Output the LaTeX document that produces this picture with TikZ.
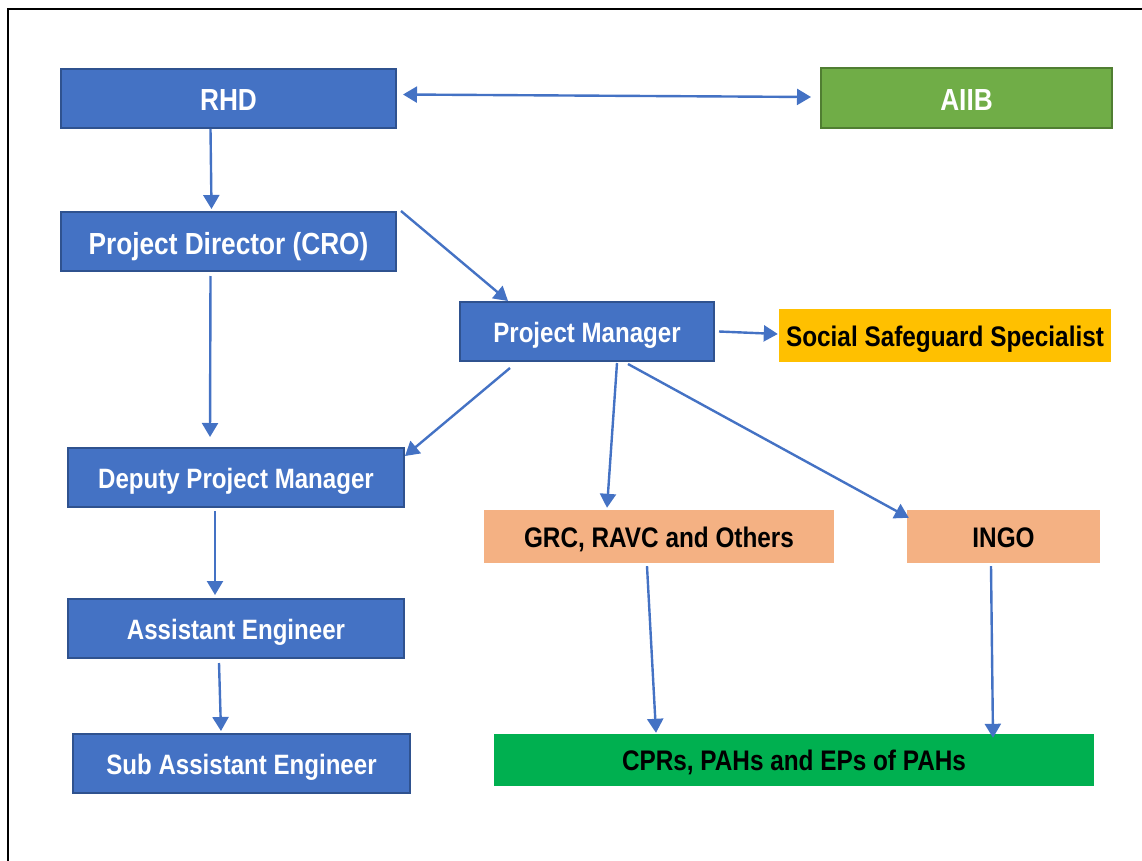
\documentclass[tikz,border=0pt]{standalone}
\usepackage{fontspec}
\setmainfont{Liberation Sans}[FakeStretch=0.86]
\usetikzlibrary{arrows.meta}

\definecolor{boxblue}{HTML}{4472C4}
\definecolor{edgeblue}{HTML}{2F528F}
\definecolor{boxgreen}{HTML}{70AD47}
\definecolor{edgegreen}{HTML}{507E32}
\definecolor{boxgold}{HTML}{FFC000}
\definecolor{boxpeach}{HTML}{F4B183}
\definecolor{boxlime}{HTML}{00B050}

\begin{document}
\begin{tikzpicture}[x=1pt, y=-1pt,
  office/.style={draw=edgeblue, line width=2pt, fill=boxblue, text=white,
    font=\bfseries\fontsize{28}{30}\selectfont, inner sep=0pt, text height=21pt, text depth=0pt},
  bigoffice/.style={office, font=\bfseries\fontsize{30.5}{32}\selectfont, text height=25pt},
  partner/.style={fill=#1, text=black, font=\bfseries\fontsize{28.3}{30}\selectfont,
    inner sep=0pt, text height=21pt, text depth=0pt},
  link/.style={boxblue, line width=2.4pt, -{Triangle[length=14pt, width=16pt]}}]
  \useasboundingbox (0,0) rectangle (1142,861);
  \draw[line width=2pt] (1142,9) -- (8,9) -- (8,861); % Frame round the chart

  % Offices of the project
  \node[bigoffice, minimum width=335pt, minimum height=59pt] (rhd) at (228.5,98.5) {RHD};
  \node[bigoffice, draw=edgegreen, fill=boxgreen, minimum width=291pt, minimum height=60pt] (aiib) at (966.5,98) {AIIB};
  \node[bigoffice, minimum width=335pt, minimum height=59pt] (pd) at (228.5,241.5) {Project Director (CRO)};
  \node[office, minimum width=254pt, minimum height=59pt] (pm) at (587,331.5) {Project Manager};
  \node[office, minimum width=336pt, minimum height=59pt] (dpm) at (236,477.5) {Deputy Project Manager};
  \node[office, minimum width=336pt, minimum height=59pt] (ae) at (236,628.5) {Assistant Engineer};
  \node[office, minimum width=337pt, minimum height=59pt] (sae) at (241.5,763.5) {Sub Assistant Engineer};

  % Other parties
  \node[partner=boxgold, minimum width=332pt, minimum height=53pt] (sss) at (945,335.5) {Social Safeguard Specialist};
  \node[partner=boxpeach, minimum width=350pt, minimum height=53pt] (grc) at (659,536.5) {GRC, RAVC and Others};
  \node[partner=boxpeach, minimum width=193pt, minimum height=53pt] (ingo) at (1003.5,536.5) {INGO};
  \node[partner=boxlime, minimum width=600pt, minimum height=52pt] (cpr) at (794,760) {CPRs, PAHs and EPs of PAHs};

  % Connectors
  \draw[link, {Triangle[length=14pt, width=16pt]}-{Triangle[length=14pt, width=16pt]}] ([xshift=6pt,yshift=4pt]rhd.east) -- ([xshift=-9pt,yshift=1pt]aiib.west);
  \draw[link] ([xshift=-18pt]rhd.south) -- ([xshift=-17pt,yshift=2pt]pd.north);
  \draw[link] ([xshift=4pt]pd.north east) -- ([xshift=-79pt]pm.north);
  \draw[link] ([xshift=-18pt,yshift=-4pt]pd.south) -- ([xshift=-26pt,yshift=10pt]dpm.north);
  \draw[link] ([xshift=4pt]pm.east) -- ([xshift=-1pt,yshift=1.5pt]sss.west);
  \draw[link] ([xshift=-77pt,yshift=-6pt]pm.south) -- ([yshift=-9pt]dpm.north east);
  \draw[link] ([xshift=30pt,yshift=-1pt]pm.south) -- ([xshift=-52pt,yshift=2pt]grc.north);
  \draw[link] ([xshift=41pt,yshift=-2pt]pm.south) -- ([xshift=2pt,yshift=-8pt]ingo.north west);
  \draw[link] ([xshift=-21pt,yshift=-3pt]dpm.south) -- ([xshift=-21pt,yshift=3pt]ae.north);
  \draw[link] ([xshift=-17pt,yshift=-4pt]ae.south) -- ([xshift=-20.5pt,yshift=2pt]sae.north);
  \draw[link] ([xshift=-12pt,yshift=-3pt]grc.south) -- ([xshift=-138pt,yshift=1pt]cpr.north);
  \draw[link] ([xshift=-12.5pt,yshift=-3pt]ingo.south) -- ([xshift=199pt,yshift=-4pt]cpr.north);
\end{tikzpicture}
\end{document}
